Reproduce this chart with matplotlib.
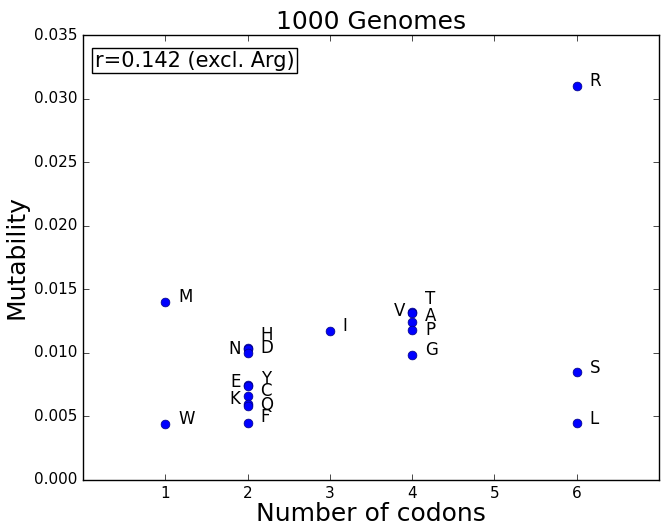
import matplotlib
matplotlib.use("Agg")
import matplotlib.pyplot as plt

plt.style.use("classic")

aa = ["M", "W", "R", "S", "L", "I", "G", "T", "V", "A", "P",
      "H", "N", "D", "Y", "E", "C", "K", "Q", "F"]
codons = [1, 1, 6, 6, 6, 3, 4, 4, 4, 4, 4,
          2, 2, 2, 2, 2, 2, 2, 2, 2]
mutability = [0.0140, 0.0044, 0.0310, 0.0085, 0.0045, 0.0117, 0.0098,
              0.0132, 0.0131, 0.0124, 0.0118,
              0.0104, 0.0103, 0.0100, 0.0075, 0.0074, 0.0066, 0.0060,
              0.0058, 0.0045]

# label offsets in pixels (dx, dy); negative dx puts the label on the left
offsets = {
    "M": (13, 5), "W": (13, 5), "R": (13, 5), "S": (13, 4), "L": (13, 4),
    "I": (13, 5), "G": (13, 5), "T": (13, 13), "V": (-7, 2), "A": (13, 6),
    "P": (13, 0), "H": (13, 13), "N": (-7, 0), "D": (13, 5), "Y": (13, 6),
    "E": (-7, 4), "C": (13, 5), "K": (-7, 5), "Q": (13, 1), "F": (13, 6),
}

fig = plt.figure(figsize=(6.64, 5.29), dpi=100, facecolor="white")
ax = fig.add_axes([83 / 664, 1 - 480 / 529, 576 / 664, 445 / 529])
ax.scatter(codons, mutability, s=40, c="b", edgecolors="#000080", linewidths=0.5, zorder=3)
for a, x, y in zip(aa, codons, mutability):
    dx, dy = offsets[a]
    ha = "left" if dx > 0 else "right"
    ax.annotate(a, (x, y), xytext=(dx, dy), textcoords="offset pixels",
                ha=ha, va="center", fontsize=12)

ax.set_xlim(0, 7)
ax.set_ylim(0, 0.035)
ax.set_xticks([1, 2, 3, 4, 5, 6])
ax.set_yticks([0.0, 0.005, 0.010, 0.015, 0.020, 0.025, 0.030, 0.035])
ax.set_yticklabels(["%.3f" % v for v in ax.get_yticks()])
ax.tick_params(labelsize=11)
ax.set_xlabel("Number of codons", fontsize=18, labelpad=1)
ax.set_ylabel("Mutability", fontsize=18, labelpad=4)
ax.set_title("1000 Genomes", fontsize=18, pad=4)
ax.text(0.02, 0.965, "r=0.142 (excl. Arg)", transform=ax.transAxes,
        fontsize=15, ha="left", va="top",
        bbox=dict(facecolor="white", edgecolor="black", pad=2))

fig.savefig("out.png", dpi=100, facecolor="white")
